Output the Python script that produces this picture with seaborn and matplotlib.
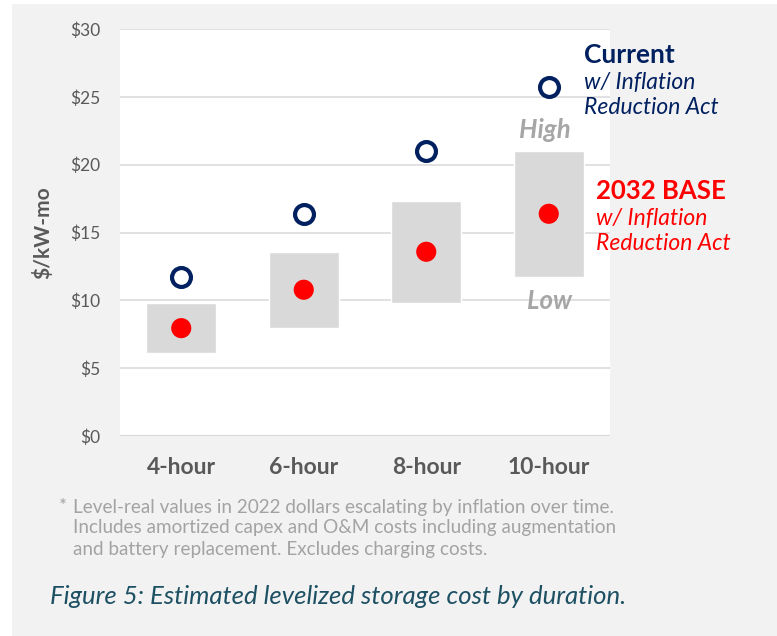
import matplotlib
matplotlib.use("Agg")
import matplotlib.pyplot as plt
import matplotlib.patches as mpatches
import seaborn as sns
import pandas as pd

categories = ["4-hour", "6-hour", "8-hour", "10-hour"]
range_low = [6.1, 7.95, 9.8, 11.7]
range_high = [9.8, 13.55, 17.3, 21.0]
base_2032 = [7.95, 10.78, 13.58, 16.38]
current = [11.71, 16.38, 21.03, 25.7]
yticks = [0, 5, 10, 15, 20, 25, 30]
ytick_labels = ["$0", "$5", "$10", "$15", "$20", "$25", "$30"]

sns.set_theme(style="white")
plt.rcParams["font.family"] = ["Lato", "DejaVu Sans"]

df = pd.DataFrame({"duration": categories, "low": range_low, "high": range_high,
                   "base": base_2032, "current": current})

W, H = 777, 636
fig = plt.figure(figsize=(W / 100, H / 100), dpi=100)
fig.patch.set_facecolor("white")
fig.patches.append(mpatches.Rectangle((12 / W, 0), 1, (H - 4) / H, transform=fig.transFigure,
                                      facecolor="#f2f2f2", edgecolor="none", zorder=-10))

ax = fig.add_axes([120 / W, 1 - 436 / H, 490 / W, 407 / H])
ax.set_facecolor("white")

ax.bar(df["duration"], df["high"] - df["low"], bottom=df["low"], width=0.57,
       color="#d9d9d9", zorder=2)
sns.scatterplot(data=df, x="duration", y="base", ax=ax, s=210, color="#ff0000",
                edgecolor="none", zorder=3, legend=False)
sns.scatterplot(data=df, x="duration", y="current", ax=ax, s=185, facecolor="white",
                edgecolor="#002060", linewidth=3.0, zorder=3, legend=False)

ax.set_xlim(-0.5, 3.5)
ax.set_ylim(0, 30)
ax.set_yticks(yticks)
ax.set_yticklabels(ytick_labels)
for y in yticks:
    ax.axhline(y, color="#d9d9d9", lw=1.6 if y == 0 else 1.1, zorder=1)
for s in ax.spines.values():
    s.set_visible(False)
ax.tick_params(axis="y", length=0, pad=14, labelsize=12.5, labelcolor="#595959")
ax.tick_params(axis="x", length=0, pad=15, labelsize=16.5, labelcolor="#595959")
for lab in ax.get_xticklabels():
    lab.set_fontweight("bold")
ax.set_xlabel("")
ax.set_ylabel("$/kW-mo", fontsize=15, fontweight="bold", color="#595959", labelpad=12)

def ftxt(x, y, s, **kw):
    fig.text(x / W, 1 - y / H, s, **kw)

navy = "#002060"
red = "#ff0000"
ftxt(584, 55, "Current", fontsize=19, fontweight="bold", color=navy, va="center")
ftxt(584, 83, "w/ Inflation", fontsize=16.5, style="italic", color=navy, va="center")
ftxt(584, 108, "Reduction Act", fontsize=16.5, style="italic", color=navy, va="center")
ftxt(596, 191, "2032 BASE", fontsize=18.5, fontweight="bold", color=red, va="center")
ftxt(596, 219, "w/ Inflation", fontsize=16.5, style="italic", color=red, va="center")
ftxt(596, 244, "Reduction Act", fontsize=16.5, style="italic", color=red, va="center")
ftxt(545, 130, "High", fontsize=18.5, fontweight="bold", style="italic", color="#a6a6a6",
     va="center", ha="center")
ftxt(549, 301, "Low", fontsize=18.5, fontweight="bold", style="italic", color="#a6a6a6",
     va="center", ha="center")

foot = "#a3a3a3"
fs = 13.6
ftxt(59, 507, "*", fontsize=fs, color=foot, va="center")
ftxt(73, 507, "Level-real values in 2022 dollars escalating by inflation over time.",
     fontsize=fs, color=foot, va="center")
ftxt(73, 528, "Includes amortized capex and O&M costs including augmentation",
     fontsize=fs, color=foot, va="center")
ftxt(73, 549, "and battery replacement. Excludes charging costs.",
     fontsize=fs, color=foot, va="center")
ftxt(50, 597, "Figure 5: Estimated levelized storage cost by duration.", fontsize=18.5,
     style="italic", color="#1d5063", va="center")

fig.savefig("out.png", dpi=100)
